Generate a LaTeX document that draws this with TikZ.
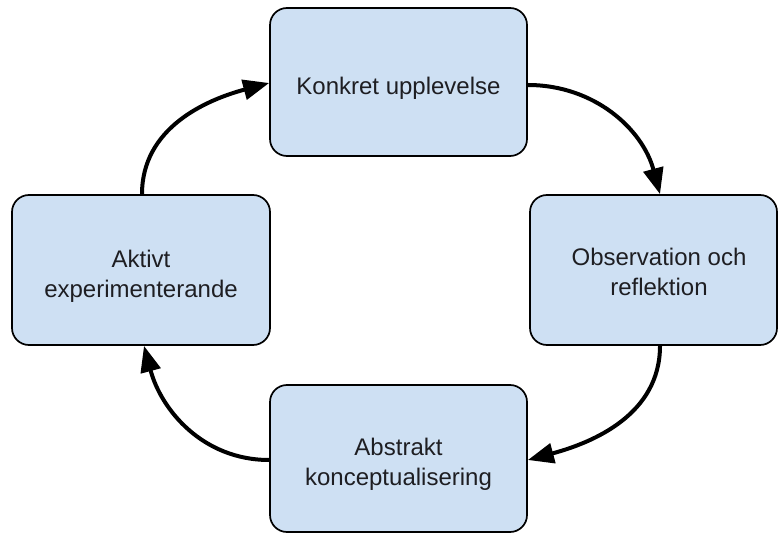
\documentclass[tikz,border=0pt]{standalone}
\usepackage{fontspec}
\setmainfont{Liberation Sans}
\usetikzlibrary{arrows.meta}
\definecolor{boxfill}{RGB}{206,224,243}
\definecolor{boxtext}{RGB}{30,30,34}
% invisible strut that lowers a node's text a little inside its box
\newcommand\stagestrut[1]{\rule{0pt}{#1}}
\begin{document}
\begin{tikzpicture}[x=1pt, y=1pt,
  stage/.style={draw=black, line width=1.7pt, fill=boxfill,
    rounded corners=17pt, align=center, inner sep=0pt,
    text=boxtext, font=\fontsize{24pt}{30pt}\selectfont},
  cyclearrow/.style={line width=4pt,
    -{Triangle[length=26pt, width=20pt]}}]
  \useasboundingbox (0,0) rectangle (778,533);

  % the four stages of the learning cycle
  \node[stage, minimum width=257pt, minimum height=148pt] (konkret) at (398.5,451)
    {\stagestrut{29pt}Konkret upplevelse};
  \node[stage, minimum width=247pt, minimum height=150pt] (obs) at (653.5,263)
    {\stagestrut{21pt}\hspace*{11pt}Observation och\\\hspace*{11pt}reflektion};
  \node[stage, minimum width=257pt, minimum height=147pt] (abstrakt) at (398.5,74.5)
    {\stagestrut{29pt}Abstrakt\\konceptualisering};
  \node[stage, minimum width=258pt, minimum height=150pt] (aktiv) at (141,263)
    {\stagestrut{29pt}Aktivt\\experimenterande};

  % curved arrows running clockwise between the stages
  \draw[cyclearrow] ([yshift=-3pt]konkret.east) to[out=0, in=105] ([xshift=6.5pt]obs.north);
  \draw[cyclearrow] ([xshift=6.5pt]obs.south) to[out=-90, in=15] ([yshift=-1.5pt]abstrakt.east);
  \draw[cyclearrow] ([yshift=-1.5pt]abstrakt.west) to[out=180, in=-75] ([xshift=3pt]aktiv.south);
  \draw[cyclearrow] ([xshift=1pt]aktiv.north) to[out=90, in=195] ([yshift=-1pt]konkret.west);
\end{tikzpicture}
\end{document}
